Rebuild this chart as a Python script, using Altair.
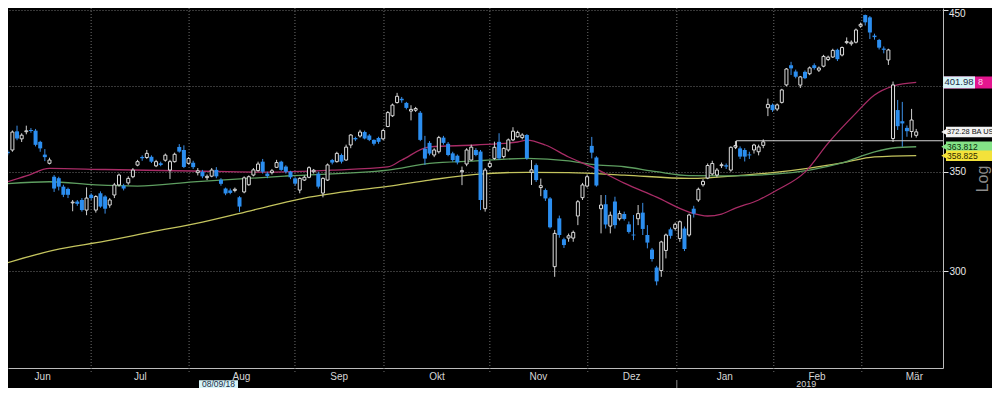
import altair as alt
import pandas as pd

# ---------------- data ----------------
# trading-day index (0 = 1 Jun 2018); first visible candle is day 2, last is 18 Mar 2019
day = list(range(2, 199))

open_ = [
    361.0, 362.0, 372.6, 368.3, 372.4, 373.4, 373.0, 366.6, 359.4, 354.6,
    347.3, 346.5, 342.0, 340.8, 333.5, 334.2, 335.0, 329.8, 337.7, 329.8,
    338.5, 336.8, 332.4, 337.6, 342.9, 342.5, 344.0, 347.3, 353.6, 358.1,
    357.8, 358.2, 353.2, 354.6, 356.3, 350.9, 355.5, 363.7, 362.0, 354.6,
    354.9, 349.5, 350.0, 346.8, 347.6, 351.0, 345.7, 341.0, 340.0, 340.0,
    336.4, 339.2, 343.0, 348.2, 350.6, 355.5, 349.0, 349.5, 352.4, 355.5,
    352.8, 350.0, 346.4, 340.2, 345.5, 347.0, 350.0, 349.0, 338.6, 345.5,
    356.4, 355.5, 359.2, 356.4, 364.8, 368.8, 369.9, 372.2, 370.2, 367.7,
    368.8, 368.3, 375.4, 381.7, 389.6, 391.9, 389.4, 384.5, 385.0, 383.5,
    362.7, 366.0, 359.2, 361.0, 369.0, 365.5, 360.1, 358.8, 350.0, 354.2,
    356.4, 362.0, 361.1, 330.5, 352.8, 357.3, 366.6, 358.3, 362.0, 367.7,
    369.5, 369.0, 370.5, 349.7, 353.6, 341.5, 340.2, 335.8, 302.1, 325.6,
    315.2, 315.8, 315.8, 326.8, 336.2, 342.3, 364.3, 357.8, 330.5, 332.8,
    321.7, 334.2, 325.4, 327.8, 322.6, 317.5, 325.4, 328.5, 317.3, 310.2,
    301.7, 300.3, 309.8, 320.1, 320.6, 315.6, 320.5, 317.3, 330.5, 335.0,
    343.0, 346.6, 348.8, 348.2, 353.3, 353.5, 350.9, 363.6, 362.9, 362.0,
    359.5, 362.0, 361.0, 364.6, 386.5, 388.2, 385.7, 389.7, 400.4, 412.8,
    408.8, 400.3, 408.6, 407.4, 412.8, 409.7, 412.2, 416.5, 418.1, 422.8,
    419.4, 427.5, 426.8, 427.8, 438.6, 446.2, 444.6, 432.2, 429.3, 423.6,
    416.2, 368.5, 385.1, 378.5, 374.6, 372.5, 370.3,
]
high = [
    362.0, 373.1, 375.9, 371.5, 375.9, 374.5, 374.0, 367.2, 362.5, 357.7,
    348.2, 347.3, 343.0, 341.5, 335.0, 335.0, 336.0, 341.6, 338.5, 337.5,
    339.5, 337.5, 336.0, 344.0, 349.0, 343.5, 347.5, 352.0, 356.5, 359.0,
    362.0, 359.0, 356.5, 355.5, 360.0, 356.5, 360.5, 365.3, 364.6, 358.0,
    356.0, 352.0, 351.0, 348.5, 352.0, 352.5, 346.5, 341.5, 341.0, 341.5,
    337.0, 347.5, 348.0, 352.0, 355.5, 357.0, 350.0, 351.5, 356.5, 356.0,
    353.5, 350.5, 347.0, 347.0, 348.0, 353.0, 351.5, 350.0, 347.0, 354.5,
    357.0, 361.0, 360.0, 365.0, 371.0, 369.5, 373.5, 373.0, 371.0, 368.0,
    369.5, 374.0, 384.5, 389.0, 395.5, 393.0, 390.0, 388.0, 387.0, 384.5,
    370.0, 367.0, 363.0, 370.0, 370.0, 366.5, 361.0, 359.5, 352.8, 363.0,
    365.0, 363.0, 362.0, 352.0, 356.0, 366.7, 371.5, 363.5, 368.5, 375.0,
    373.0, 371.5, 371.0, 356.4, 354.5, 346.3, 341.0, 336.5, 319.8, 327.0,
    316.0, 318.0, 319.5, 335.0, 344.0, 348.5, 369.4, 358.5, 337.6, 337.6,
    329.0, 336.7, 329.5, 329.0, 324.0, 327.3, 332.4, 333.5, 322.2, 311.0,
    302.5, 314.5, 318.0, 321.0, 323.5, 324.5, 321.5, 328.0, 332.0, 341.5,
    346.0, 354.5, 356.0, 352.0, 355.0, 354.5, 364.0, 367.0, 364.0, 363.0,
    361.0, 365.5, 365.0, 368.0, 392.0, 389.0, 389.0, 398.0, 411.0, 415.0,
    410.0, 406.0, 409.5, 412.0, 414.0, 412.0, 419.5, 419.0, 423.5, 423.5,
    425.0, 431.0, 429.0, 437.0, 441.0, 446.5, 445.5, 433.5, 430.0, 425.0,
    423.5, 402.5, 391.2, 390.0, 376.0, 385.8, 374.0,
]
low = [
    359.0, 361.0, 367.5, 366.5, 370.9, 371.8, 364.0, 361.0, 355.8, 354.0,
    339.2, 340.0, 336.5, 336.0, 329.2, 332.0, 329.0, 327.2, 335.0, 328.5,
    331.0, 328.0, 331.0, 336.0, 342.0, 340.0, 343.0, 346.5, 353.0, 356.0,
    357.0, 354.8, 352.5, 353.0, 355.5, 346.1, 355.0, 360.5, 352.0, 354.0,
    351.5, 348.0, 346.5, 345.5, 347.0, 346.5, 342.5, 337.5, 338.0, 339.0,
    328.9, 338.5, 342.5, 347.5, 350.0, 349.0, 346.5, 348.5, 352.0, 350.5,
    349.0, 346.0, 342.5, 338.5, 345.0, 346.5, 349.0, 341.0, 336.4, 345.0,
    354.0, 355.0, 354.5, 356.0, 363.0, 367.0, 369.0, 368.0, 367.0, 364.5,
    365.5, 367.5, 375.0, 381.0, 389.0, 389.5, 385.5, 379.0, 384.0, 367.0,
    353.7, 359.0, 358.0, 360.0, 365.0, 358.5, 355.5, 354.0, 342.8, 353.0,
    356.0, 358.5, 329.8, 329.0, 352.0, 356.5, 356.5, 357.3, 361.0, 367.0,
    369.0, 368.0, 356.5, 342.9, 344.5, 337.0, 334.5, 320.5, 297.4, 316.0,
    311.0, 314.0, 314.0, 322.2, 335.0, 341.5, 357.3, 342.0, 318.1, 320.5,
    318.1, 320.5, 324.5, 324.5, 318.0, 314.8, 322.2, 317.3, 310.8, 304.5,
    293.5, 297.4, 306.0, 315.5, 319.5, 314.0, 309.5, 316.5, 326.0, 334.0,
    342.0, 346.0, 348.0, 347.0, 352.0, 351.5, 350.0, 362.5, 357.0, 355.6,
    357.0, 360.0, 359.0, 363.0, 381.5, 384.0, 384.5, 389.0, 399.5, 406.6,
    404.5, 398.5, 404.0, 406.5, 410.0, 408.5, 411.5, 415.5, 417.5, 415.5,
    418.5, 426.5, 425.5, 427.0, 437.5, 439.0, 429.9, 429.5, 423.0, 420.5,
    413.0, 366.5, 373.4, 363.8, 369.5, 369.0, 369.0,
]
close = [
    360.2, 372.2, 368.5, 370.4, 372.9, 372.8, 364.9, 362.9, 358.0, 356.4,
    341.0, 342.0, 337.7, 337.7, 333.9, 333.0, 329.8, 336.0, 336.0, 336.8,
    331.6, 330.5, 335.0, 342.9, 348.2, 341.0, 346.4, 350.9, 355.5, 357.4,
    360.1, 355.5, 355.5, 353.7, 359.1, 355.5, 359.6, 361.1, 352.6, 357.3,
    352.5, 350.5, 347.5, 347.5, 350.9, 347.5, 343.5, 338.4, 338.7, 340.6,
    331.6, 346.7, 347.3, 351.0, 354.2, 350.0, 347.7, 350.5, 355.0, 351.0,
    350.0, 347.0, 343.6, 346.4, 347.0, 352.2, 350.8, 342.0, 346.4, 353.7,
    355.0, 360.1, 355.5, 363.6, 370.5, 368.0, 372.2, 368.5, 367.7, 365.5,
    366.6, 373.1, 383.6, 388.1, 393.4, 391.0, 386.4, 385.5, 386.0, 367.7,
    357.2, 360.0, 362.0, 369.0, 366.0, 359.2, 356.4, 355.1, 350.6, 362.0,
    363.6, 359.2, 335.0, 350.9, 354.6, 363.5, 357.3, 362.9, 367.7, 372.7,
    372.0, 370.5, 357.3, 351.0, 345.5, 342.5, 335.8, 321.1, 318.1, 317.3,
    312.4, 316.9, 318.6, 334.1, 342.9, 347.3, 360.5, 342.6, 332.4, 322.5,
    327.2, 322.2, 328.0, 325.3, 318.8, 317.1, 328.0, 320.3, 313.6, 305.7,
    295.3, 313.9, 317.3, 316.9, 322.6, 323.9, 310.5, 327.3, 328.0, 340.6,
    344.8, 353.4, 354.5, 350.9, 353.8, 352.8, 363.5, 364.5, 358.3, 358.3,
    359.0, 364.8, 363.7, 366.6, 388.5, 385.1, 388.2, 397.3, 410.4, 410.8,
    405.5, 405.4, 404.6, 411.1, 411.0, 411.0, 418.5, 418.0, 422.4, 416.7,
    424.3, 428.2, 427.8, 436.0, 439.8, 441.2, 434.3, 431.2, 424.2, 422.8,
    422.7, 400.4, 375.6, 377.2, 372.7, 379.2, 372.3,
]

# moving-average lines
mag_day = [1, 6, 11, 23, 42, 57, 72, 84, 87, 93, 103, 112, 114, 118, 123, 128, 135,
           142, 149, 153, 156, 159, 164, 168, 174, 179, 185, 189, 193, 198]
mag_val = [343.9, 347.7, 351.8, 351.2, 350.4, 349.8, 350.9, 352.6, 356.4, 363.7, 364.8,
           366.5, 367.6, 364.8, 358.1, 352.6, 343.9, 336.5, 328.8, 326.8, 327.8, 330.8,
           335.0, 340.2, 349.8, 365.9, 383.3, 394.2, 399.7, 401.98]
grn_day = [1, 11, 21, 30, 42, 62, 84, 93, 103, 114, 123, 128, 135, 142, 149, 157, 168,
           175, 182, 189, 193, 198]
grn_val = [343.4, 344.6, 342.9, 342.3, 344.5, 347.7, 350.9, 354.6, 355.9, 357.3, 355.9,
           354.0, 352.7, 350.0, 347.9, 347.8, 348.8, 350.9, 354.8, 360.9, 363.1, 363.812]
yel_day = [1, 12, 23, 33, 44, 55, 65, 76, 84, 93, 103, 114, 123, 135, 149, 161, 168, 175,
           182, 189, 198]
yel_val = [303.3, 310.0, 314.3, 318.8, 323.7, 329.8, 335.5, 339.7, 342.1, 345.5, 348.6,
           349.7, 349.5, 348.2, 346.4, 348.2, 349.8, 352.0, 354.8, 358.1, 358.825]

month_names = ["Jun", "Jul", "Aug", "Sep", "Okt", "Nov", "Dez", "Jan", "Feb", "Mär"]
month_label_pos = [9.53, 30.6, 52.4, 73.5, 94.6, 116.5, 136.6, 156.7, 176.6, 197.6]
month_grid_pos = [19.99, 41.12, 63.96, 83.17, 106.01, 127.14, 146.35, 167.27, 186.26]
y_ticks = [300, 350, 400, 450]
top_tick = [450]

level_start = [159.2]
level_price = [367.2]
level_tick_low = [362.9]

tag_labels = ["372.28 BA US", "363.812", "358.825"]
tag_prices = [372.28, 363.812, 358.825]
tag_bg = ["#f2f2f2", "#84e387", "#f3e23a"]
tag_fg = ["#111111", "#0b300b", "#2e2a00"]
tag_size = [7.4, 8.5, 8.5]
mag_tag_price = [401.98]
mag_tag_label = ["401.98"]

# ---------------- chart ----------------
X_DOMAIN = [3.131, 202.70]
Y_DOMAIN = [258.2, 451.1]
FONT = "Liberation Sans"

xscale = alt.Scale(domain=X_DOMAIN, nice=False, zero=False)
yscale = alt.Scale(type="log", domain=Y_DOMAIN, nice=False, zero=False)
xaxis = alt.Axis(labels=False, ticks=False, grid=False, domainColor="#bcbcbc",
                 domainWidth=1, title=None)
yaxis = alt.Axis(orient="right", values=y_ticks, format="d", grid=True,
                 gridColor="#6e6e6e", gridDash=[1, 2], gridWidth=1,
                 domainColor="#bcbcbc", tickColor="#e0e0e0", tickSize=5,
                 labelColor="#e8e8e8", labelFont=FONT, labelFontSize=10,
                 labelPadding=1, title=None,
                 labelExpr="datum.value == 400 || datum.value == 450 ? '' : datum.label")


def X(f):
    return alt.X(f, type="quantitative", scale=xscale, axis=xaxis)


def Y(f):
    return alt.Y(f, type="quantitative", scale=yscale, axis=yaxis)


candles = pd.DataFrame({"day": day, "open": open_, "high": high, "low": low, "close": close})
candles["dir"] = (candles["close"] >= candles["open"]).map({True: "up", False: "down"})
candles["top"] = candles[["open", "close"]].max(axis=1)
candles["bot"] = candles[["open", "close"]].min(axis=1)

vgrid = alt.Chart(pd.DataFrame({"g": month_grid_pos})).mark_rule(
    color="#6e6e6e", strokeDash=[1, 2], strokeWidth=1
).encode(x=X("g"), y=alt.value(0), y2=alt.value(364))


def ma_layer(days, vals, color):
    df = pd.DataFrame({"day": days, "v": vals})
    return alt.Chart(df).mark_line(color=color, strokeWidth=1.3, clip=True,
                                   interpolate="monotone").encode(x=X("day"), y=Y("v"))


ma_yel = ma_layer(yel_day, yel_val, "#c4c45e")
ma_grn = ma_layer(grn_day, grn_val, "#5e9e60")
ma_mag = ma_layer(mag_day, mag_val, "#a82c66")

wick = alt.Chart(candles).mark_rule(strokeWidth=1, clip=True).encode(
    x=X("day"), y=Y("low"), y2=alt.Y2("high"),
    color=alt.Color("dir:N", scale=alt.Scale(domain=["up", "down"],
                                             range=["#cfcfcf", "#3d90e8"]), legend=None),
)
down = alt.Chart(candles).transform_filter("datum.dir == 'down'").mark_bar(
    size=4, color="#2b8ef0", clip=True
).encode(x=X("day"), y=Y("top"), y2=alt.Y2("bot"))
up = alt.Chart(candles).transform_filter("datum.dir == 'up'").mark_bar(
    size=3, fill="#000000", stroke="#dcdcdc", strokeWidth=1, clip=True
).encode(x=X("day"), y=Y("top"), y2=alt.Y2("bot"))

level_df = pd.DataFrame({"start": level_start, "price": level_price, "lo": level_tick_low})
level = alt.Chart(level_df).mark_rule(color="#d4d4d4", strokeWidth=1.2).encode(
    x=X("start"), x2=alt.value(935), y=Y("price"))
level_tick = alt.Chart(level_df).mark_rule(color="#d4d4d4", strokeWidth=1.2).encode(
    x=X("start"), y=Y("price"), y2=alt.Y2("lo"))

# top axis label drawn inside the view so that it is not cut off
top_lbl = alt.Chart(pd.DataFrame({"v": top_tick})).mark_text(
    align="left", baseline="top", font=FONT, fontSize=10, color="#e8e8e8", dy=-1
).encode(x=alt.value(941), y=Y("v"), text=alt.Text("v:Q", format="d"))

# magenta tag partly covered by a light crosshair value box
mag_df = pd.DataFrame({"price": mag_tag_price, "label": mag_tag_label})
mag_box = alt.Chart(mag_df).mark_rule(color="#e4168f", strokeWidth=12, strokeCap="butt").encode(
    x=alt.value(936), x2=alt.value(992), y=Y("price"))
mag_end = alt.Chart(mag_df).mark_text(align="left", baseline="middle", font=FONT,
                                      fontSize=9, color="#ffd6ec").encode(
    x=alt.value(970), y=Y("price"), text=alt.value("8"))
cyan_box = alt.Chart(mag_df).mark_rule(color="#d6f3f7", strokeWidth=12, strokeCap="butt").encode(
    x=alt.value(935), x2=alt.value(967), y=Y("price"))
cyan_txt = alt.Chart(mag_df).mark_text(align="left", baseline="middle", font=FONT,
                                       fontSize=9.5, color="#1a2a44").encode(
    x=alt.value(936.5), y=Y("price"), text="label:N")

tags_df = pd.DataFrame({"price": tag_prices, "label": tag_labels, "bg": tag_bg,
                        "fg": tag_fg, "fs": tag_size})
tag_box = alt.Chart(tags_df).mark_rule(strokeWidth=10.5, strokeCap="butt").encode(
    x=alt.value(938), x2=alt.value(992), y=Y("price"), color=alt.Color("bg:N", scale=None))
tag_tri = alt.Chart(tags_df).mark_point(shape="triangle-left", filled=True, size=40,
                                        opacity=1).encode(
    x=alt.value(936), y=Y("price"), color=alt.Color("bg:N", scale=None))
tag_txt = alt.Chart(tags_df).mark_text(align="left", baseline="middle", font=FONT).encode(
    x=alt.value(939), y=Y("price"), text="label:N", color=alt.Color("fg:N", scale=None),
    size=alt.Size("fs:Q", scale=None, legend=None))

months = alt.Chart(pd.DataFrame({"pos": month_label_pos, "name": month_names})).mark_text(
    color="#d6d6d6", font=FONT, fontSize=10, baseline="middle"
).encode(x=X("pos"), y=alt.value(368.5), text="name:N")

year_df = pd.DataFrame({"pos": [174.3], "name": ["2019"], "sep": [146.35]})
year_txt = alt.Chart(year_df).mark_text(color="#d6d6d6", font=FONT, fontSize=9,
                                        baseline="middle").encode(
    x=X("pos"), y=alt.value(376.3), text="name:N")
year_sep = alt.Chart(year_df).mark_rule(color="#8a8a8a", strokeWidth=1).encode(
    x=X("sep"), y=alt.value(372), y2=alt.value(380))

date_df = pd.DataFrame({"label": ["08/09/18"]})
date_box = alt.Chart(date_df).mark_rule(color="#d6f3f7", strokeWidth=8, strokeCap="butt").encode(
    x=alt.value(191), x2=alt.value(230), y=alt.value(376.3))
date_txt = alt.Chart(date_df).mark_text(color="#1a2a44", font=FONT, fontSize=8.5,
                                        baseline="middle").encode(
    x=alt.value(210.5), y=alt.value(376.3), text="label:N")

log_txt = alt.Chart(pd.DataFrame({"t": ["Log"]})).mark_text(
    color="#8c8c8c", font=FONT, fontSize=16, angle=270, baseline="middle", align="center"
).encode(x=alt.value(975), y=alt.value(171), text="t:N")

chart = alt.layer(
    vgrid, ma_yel, ma_grn, ma_mag, wick, down, up, level, level_tick, top_lbl,
    mag_box, mag_end, cyan_box, cyan_txt, tag_box, tag_tri, tag_txt,
    months, year_sep, year_txt, date_box, date_txt, log_txt,
).properties(
    width=935, height=360, background="#000000",
    padding={"left": 0, "top": 0, "right": 49, "bottom": 20},
    autosize=alt.AutoSizeParams(type="none"),
).configure_view(stroke=None)

chart.save("out.html", embed_options={"renderer": "svg", "actions": False})
